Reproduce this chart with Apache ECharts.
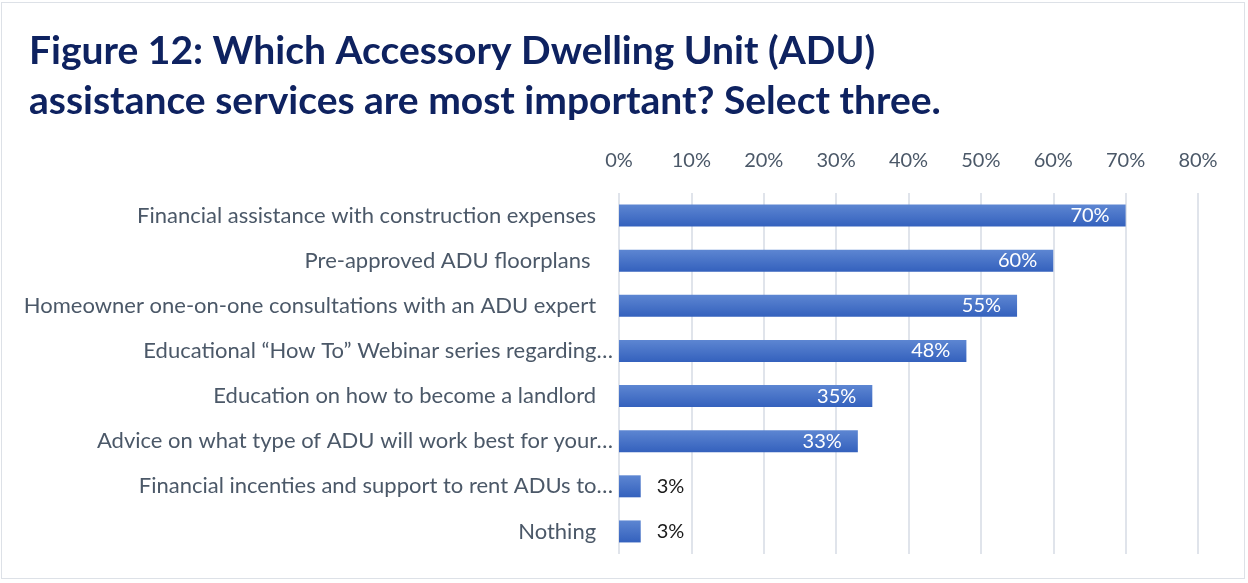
<!DOCTYPE html>
<html>
<head>
<meta charset="utf-8">
<script src="https://cdn.jsdelivr.net/npm/echarts@6/dist/echarts.min.js"></script>
<style>
  html, body { margin: 0; padding: 0; background: #ffffff; }
  #chart { position: absolute; left: 1px; top: 2px; width: 1244px; height: 577px;
           border: 1.5px solid #dde1e7; box-sizing: border-box; }
</style>
</head>
<body>
<div id="chart"></div>
<script>
// Survey answers, top to bottom (non-breaking spaces keep the trailing gap)
const categories = [
  'Financial assistance with construction expenses\u00a0\u00a0\u00a0',
  'Pre-approved ADU floorplans\u00a0\u00a0\u00a0\u00a0',
  'Homeowner one-on-one consultations with an ADU expert\u00a0\u00a0\u00a0',
  'Educational \u201cHow To\u201d Webinar series regarding\u2026',
  'Education on how to become a landlord\u00a0\u00a0\u00a0',
  'Advice on what type of ADU will work best for your\u2026',
  'Financial incenties and support to rent ADUs to\u2026',
  'Nothing\u00a0\u00a0\u00a0'
];
const shares = [70, 60, 55, 48, 35, 33, 3, 3];   // percent of respondents
const axisTicks = [0, 10, 20, 30, 40, 50, 60, 70, 80];

const chart = echarts.init(document.getElementById('chart'));

const barFill = new echarts.graphic.LinearGradient(0, 0, 0, 1, [
  { offset: 0, color: '#5d86d2' },
  { offset: 1, color: '#3461bd' }
]);

chart.setOption({
  animation: false,
  title: {
    text: 'Figure 12: Which Accessory Dwelling Unit (ADU)\nassistance services are most important? Select three.',
    left: 22, top: 18,
    textStyle: {
      fontFamily: 'Lato',
      fontWeight: 'bold', fontSize: 39, lineHeight: 50, color: '#0e2260'
    }
  },
  grid: { left: 617, right: 46, top: 190, bottom: 24, containLabel: false },
  xAxis: {
    type: 'value', position: 'top',
    min: axisTicks[0], max: axisTicks[axisTicks.length - 1], interval: 10,
    axisLine: { show: false }, axisTick: { show: false },
    axisLabel: {
      formatter: '{value}%', margin: 22,
      fontFamily: 'Lato', fontSize: 20, color: '#4b5868'
    },
    splitLine: { lineStyle: { color: '#e0e4eb', width: 2 } }
  },
  yAxis: {
    type: 'category', inverse: true, data: categories,
    axisLine: { show: false }, axisTick: { show: false },
    axisLabel: { margin: 6, fontFamily: 'Lato', fontSize: 22, color: '#4b5868' }
  },
  series: [{
    type: 'bar', barWidth: 22,
    // short bars carry their value outside, in dark text
    data: shares.map(v => v < 10 ? {
      value: v,
      label: { position: 'right', color: '#1a1a1a', distance: 16 }
    } : v),
    itemStyle: { color: barFill },
    label: {
      show: true, formatter: '{c}%', fontFamily: 'Lato', fontSize: 20,
      position: 'insideRight', color: '#ffffff', distance: 16
    }
  }]
});
</script>
</body>
</html>
